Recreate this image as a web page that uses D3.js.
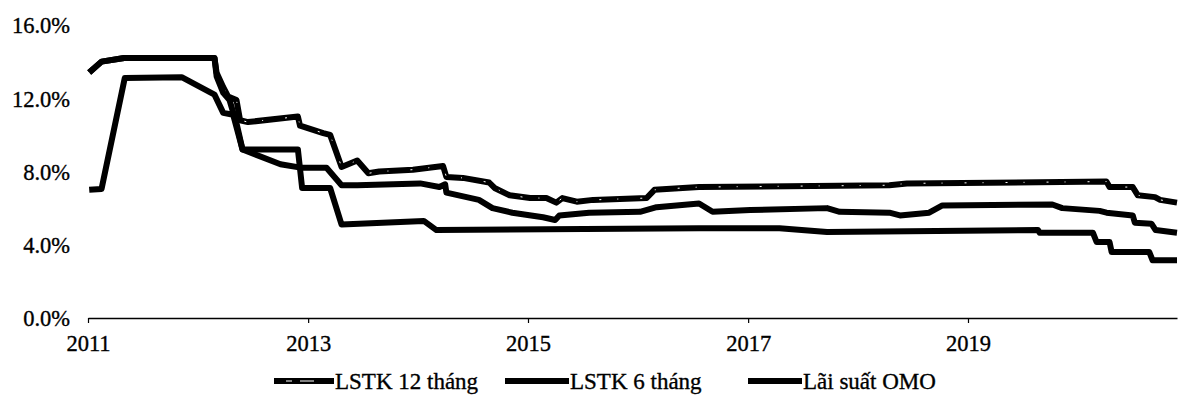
<!DOCTYPE html>
<html>
<head>
<meta charset="utf-8">
<script src="https://cdn.jsdelivr.net/npm/d3@7"></script>
<style>
  html, body { margin: 0; padding: 0; background: #fff; }
  svg { display: block; }
  text { font-family: "Liberation Serif", "Times New Roman", serif; fill: #000; stroke: #000; stroke-width: 0.35px; }
</style>
</head>
<body>
<svg id="chart" width="1179" height="406"></svg>
<script>
// ---- data ----
const seriesNames = ["LSTK 12 tháng", "LSTK 6 tháng", "Lãi suất OMO"];
const yTicks = [0, 4, 8, 12, 16];
const xTickYears = [2011, 2013, 2015, 2017, 2019];

const lstk12 = [
  ["2011-01-05", 13.4], ["2011-02-15", 14.0], ["2011-05-01", 14.2], ["2012-02-25", 14.2],
  ["2012-03-03", 13.4], ["2012-03-25", 12.6], ["2012-04-10", 12.1], ["2012-05-08", 11.9],
  ["2012-05-20", 10.8], ["2012-06-15", 10.7], ["2012-11-28", 11.0], ["2012-12-05", 10.5],
  ["2013-02-20", 10.1], ["2013-03-15", 10.0], ["2013-04-22", 8.25], ["2013-06-13", 8.6],
  ["2013-07-20", 7.9], ["2013-08-25", 8.0], ["2013-12-15", 8.1], ["2014-03-25", 8.3],
  ["2014-04-05", 7.7], ["2014-05-30", 7.65], ["2014-08-25", 7.4], ["2014-09-12", 7.1],
  ["2014-11-01", 6.7], ["2015-01-08", 6.55], ["2015-03-03", 6.55], ["2015-04-05", 6.3],
  ["2015-04-25", 6.55], ["2015-06-12", 6.35], ["2015-08-05", 6.45], ["2016-01-30", 6.55],
  ["2016-02-25", 7.0], ["2016-04-05", 7.05], ["2016-07-22", 7.15], ["2018-04-15", 7.25],
  ["2018-06-12", 7.35], ["2020-04-05", 7.45], ["2020-04-15", 7.15], ["2020-07-01", 7.15],
  ["2020-07-18", 6.7], ["2020-09-13", 6.6], ["2020-09-30", 6.45], ["2020-11-25", 6.3]
];

const lstk6 = [
  ["2011-01-05", 13.4], ["2011-02-15", 14.0], ["2011-05-01", 14.2], ["2012-02-25", 14.2],
  ["2012-03-03", 13.2], ["2012-03-25", 12.3], ["2012-04-15", 11.9], ["2012-05-10", 10.5],
  ["2012-05-28", 9.2], ["2012-10-01", 8.4], ["2012-12-12", 8.2], ["2013-03-03", 8.2],
  ["2013-04-22", 7.25], ["2013-06-13", 7.25], ["2014-01-08", 7.35], ["2014-03-13", 7.15],
  ["2014-04-01", 7.3], ["2014-04-05", 6.85], ["2014-07-22", 6.45], ["2014-09-05", 6.0],
  ["2014-11-10", 5.75], ["2015-02-20", 5.5], ["2015-04-01", 5.35], ["2015-04-15", 5.6],
  ["2015-07-23", 5.75], ["2016-01-08", 5.8], ["2016-03-03", 6.05], ["2016-07-22", 6.25],
  ["2016-09-05", 5.8], ["2017-01-08", 5.9], ["2017-09-20", 6.0], ["2017-11-01", 5.8],
  ["2018-04-15", 5.75], ["2018-05-20", 5.6], ["2018-08-25", 5.75], ["2018-10-08", 6.15],
  ["2019-10-08", 6.2], ["2019-11-10", 6.0], ["2020-03-13", 5.85], ["2020-04-05", 5.75],
  ["2020-07-01", 5.6], ["2020-07-08", 5.2], ["2020-09-01", 5.15], ["2020-09-15", 4.8],
  ["2020-11-25", 4.65]
];

const omo = [
  ["2011-01-05", 7.0], ["2011-02-15", 7.05], ["2011-05-03", 13.1], ["2011-11-08", 13.15],
  ["2012-02-25", 12.2], ["2012-03-25", 11.2], ["2012-04-27", 11.1], ["2012-05-28", 9.2],
  ["2012-11-28", 9.2], ["2012-12-12", 7.1], ["2013-03-15", 7.1], ["2013-04-22", 5.1],
  ["2014-01-20", 5.3], ["2014-03-03", 4.8], ["2016-07-22", 4.9], ["2017-04-15", 4.9],
  ["2017-09-20", 4.7], ["2019-08-22", 4.8], ["2019-08-27", 4.65], ["2020-02-20", 4.65],
  ["2020-03-03", 4.15], ["2020-04-15", 4.15], ["2020-04-22", 3.6], ["2020-08-25", 3.6],
  ["2020-09-05", 3.15], ["2020-11-25", 3.15]
];

// ---- chart ----
const parse = d3.timeParse("%Y-%m-%d");
const svg = d3.select("#chart");
const x = d3.scaleTime()
  .domain([parse("2011-01-01"), parse("2020-11-25")])
  .range([88, 1177]);
const y = d3.scaleLinear().domain([0, 16]).range([318, 25]);

// y labels (no axis line)
const yAxis = d3.axisLeft(y).tickValues(yTicks).tickSize(0).tickPadding(0)
  .tickFormat(d => d3.format(".1f")(d) + "%");
const gy = svg.append("g").attr("transform", "translate(70,0)").call(yAxis);
gy.select(".domain").remove();
gy.selectAll("text").attr("font-size", 22.5).attr("font-family", "Liberation Serif").attr("dy", "0.35em");

// x axis
const xAxis = d3.axisBottom(x)
  .tickValues(xTickYears.map(v => new Date(v, 0, 1)))
  .tickSize(5).tickSizeOuter(0).tickPadding(12)
  .tickFormat(d3.timeFormat("%Y"));
const gx = svg.append("g").attr("transform", "translate(0,318)").call(xAxis);
gx.select(".domain").attr("stroke", "#000").attr("stroke-width", 1.5);
gx.selectAll(".tick line").attr("stroke", "#000").attr("stroke-width", 1.2);
gx.selectAll("text").attr("font-size", 22.5).attr("font-family", "Liberation Serif");

const line = d3.line().x(d => x(parse(d[0]))).y(d => y(d[1]));
const LW = 6;

// 12-month: black with sparse white dashed core
svg.append("path").datum(lstk12).attr("d", line)
  .attr("fill", "none").attr("stroke", "#000").attr("stroke-width", LW).attr("stroke-linejoin", "round");
svg.append("path").datum(lstk12).attr("d", line)
  .attr("fill", "none").attr("stroke", "#fff").attr("stroke-width", 1)
  .attr("stroke-dasharray", "2 16 1 22");
// 6-month
svg.append("path").datum(lstk6).attr("d", line)
  .attr("fill", "none").attr("stroke", "#000").attr("stroke-width", LW).attr("stroke-linejoin", "round");
// OMO
svg.append("path").datum(omo).attr("d", line)
  .attr("fill", "none").attr("stroke", "#000").attr("stroke-width", LW).attr("stroke-linejoin", "round");

// legend
const legendItems = [
  { name: seriesNames[0], x1: 274, x2: 334, dashed: true },
  { name: seriesNames[1], x1: 505, x2: 569, dashed: false },
  { name: seriesNames[2], x1: 748, x2: 802, dashed: false }
];
const lg = svg.append("g");
legendItems.forEach(it => {
  lg.append("line").attr("x1", it.x1).attr("x2", it.x2).attr("y1", 381).attr("y2", 381)
    .attr("stroke", "#000").attr("stroke-width", LW);
  if (it.dashed) {
    lg.append("line").attr("x1", it.x1 + 12).attr("x2", it.x2 - 4).attr("y1", 381).attr("y2", 381)
      .attr("stroke", "#fff").attr("stroke-width", 1.2).attr("stroke-dasharray", "6 8 14 30");
  }
  lg.append("text").attr("x", it.x2 + 1).attr("y", 389).attr("font-size", 23).text(it.name);
});
</script>
</body>
</html>
